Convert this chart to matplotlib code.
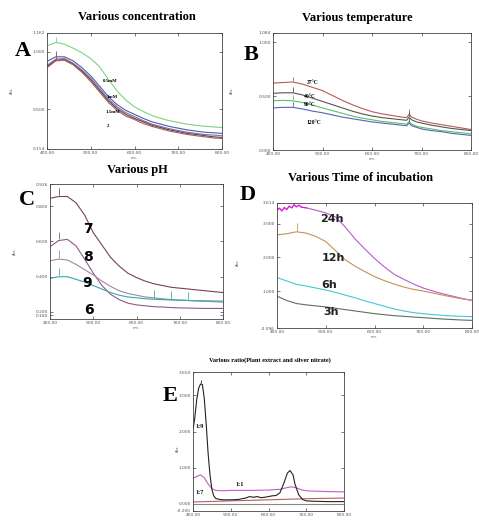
import matplotlib.pyplot as plt
import numpy as np

# ============================================================
# DATA
# ============================================================

nm20 = [400, 420, 440, 460, 480, 500, 520, 540, 560, 580, 600,
        620, 640, 660, 680, 700, 720, 740, 760, 780, 800]

# A - various concentration
conc_labels = ["0.5mM", "1mM", "1.5mM", "2"]
conc_05 = [1.05, 1.08, 1.065, 1.03, 0.99, 0.94, 0.87, 0.76, 0.66, 0.58, 0.52,
           0.48, 0.445, 0.42, 0.40, 0.385, 0.37, 0.36, 0.352, 0.346, 0.34]
conc_1 = [0.915, 0.955, 0.955, 0.92, 0.86, 0.79, 0.70, 0.61, 0.54, 0.49, 0.455,
          0.42, 0.39, 0.37, 0.35, 0.335, 0.32, 0.31, 0.30, 0.295, 0.29]
conc_15 = [0.88, 0.935, 0.94, 0.90, 0.84, 0.77, 0.68, 0.59, 0.52, 0.47, 0.435,
           0.40, 0.37, 0.35, 0.33, 0.315, 0.30, 0.29, 0.28, 0.275, 0.27]
conc_dark = [0.87, 0.925, 0.93, 0.89, 0.83, 0.755, 0.665, 0.575, 0.505, 0.455, 0.42,
             0.39, 0.36, 0.34, 0.32, 0.305, 0.29, 0.28, 0.27, 0.26, 0.255]
conc_2 = [0.86, 0.92, 0.925, 0.885, 0.82, 0.74, 0.65, 0.56, 0.49, 0.44, 0.41,
          0.375, 0.35, 0.33, 0.31, 0.295, 0.28, 0.27, 0.26, 0.25, 0.245]

# B - various temperature
nm_b = [400, 420, 440, 460, 480, 500, 520, 540, 560, 580, 600, 620, 640, 660,
        670, 675, 680, 690, 700, 720, 740, 760, 780, 800]
temp_labels = ["37\u00b0C", "40\u00b0C", "90\u00b0C", "120\u00b0C"]
temp_37 = [0.62, 0.625, 0.63, 0.61, 0.58, 0.55, 0.505, 0.46, 0.42, 0.385, 0.355, 0.335,
           0.32, 0.305, 0.30, 0.33, 0.305, 0.285, 0.27, 0.25, 0.235, 0.22, 0.205, 0.19]
temp_40 = [0.525, 0.53, 0.53, 0.51, 0.48, 0.45, 0.42, 0.39, 0.36, 0.335, 0.315, 0.30,
           0.29, 0.28, 0.275, 0.305, 0.28, 0.26, 0.25, 0.23, 0.215, 0.20, 0.19, 0.18]
temp_90 = [0.455, 0.46, 0.455, 0.44, 0.415, 0.39, 0.365, 0.34, 0.315, 0.295, 0.28, 0.265,
           0.255, 0.245, 0.24, 0.265, 0.24, 0.22, 0.21, 0.195, 0.18, 0.17, 0.16, 0.15]
temp_120 = [0.39, 0.395, 0.395, 0.38, 0.36, 0.345, 0.325, 0.305, 0.29, 0.275, 0.26, 0.25,
            0.24, 0.23, 0.225, 0.25, 0.225, 0.21, 0.195, 0.18, 0.17, 0.155, 0.145, 0.135]

# C - various pH
ph_labels = ["7", "8", "9", "6"]
ph_7 = [0.845, 0.855, 0.855, 0.82, 0.75, 0.65, 0.58, 0.51, 0.46, 0.42, 0.395,
        0.375, 0.36, 0.35, 0.34, 0.335, 0.33, 0.325, 0.32, 0.315, 0.31]
ph_8 = [0.57, 0.605, 0.612, 0.575, 0.50, 0.42, 0.35, 0.30, 0.27, 0.25, 0.24,
        0.235, 0.23, 0.228, 0.225, 0.223, 0.222, 0.221, 0.22, 0.22, 0.22]
ph_9 = [0.49, 0.50, 0.495, 0.47, 0.44, 0.41, 0.375, 0.345, 0.32, 0.305, 0.295,
        0.285, 0.28, 0.275, 0.27, 0.268, 0.265, 0.262, 0.26, 0.258, 0.255]
ph_6 = [0.39, 0.40, 0.40, 0.385, 0.37, 0.35, 0.33, 0.31, 0.295, 0.285, 0.28,
        0.275, 0.272, 0.27, 0.268, 0.266, 0.265, 0.264, 0.263, 0.262, 0.262]

# D - various time of incubation
time_labels = ["24h", "12h", "6h", "3h"]
nm_24 = [400, 405, 410, 415, 420, 425, 430, 435, 440, 445, 450, 460, 480, 500,
         520, 540, 560, 580, 600, 620, 640, 660, 680, 700, 720, 740, 760, 780, 800]
time_24 = [3.40, 3.46, 3.38, 3.48, 3.42, 3.52, 3.47, 3.56, 3.50, 3.55, 3.49, 3.47, 3.40,
           3.32, 3.20, 2.90, 2.55, 2.25, 1.97, 1.72, 1.50, 1.35, 1.21, 1.09, 1.00,
           0.92, 0.85, 0.78, 0.72]
time_12 = [2.67, 2.70, 2.76, 2.72, 2.62, 2.47, 2.20, 1.93, 1.74, 1.58, 1.43,
           1.31, 1.21, 1.12, 1.05, 1.00, 0.94, 0.88, 0.82, 0.77, 0.73]
time_6 = [1.40, 1.30, 1.20, 1.15, 1.09, 1.03, 0.96, 0.88, 0.80, 0.71, 0.63,
          0.55, 0.47, 0.41, 0.36, 0.33, 0.30, 0.28, 0.26, 0.25, 0.24]
time_3 = [0.85, 0.72, 0.63, 0.59, 0.56, 0.53, 0.49, 0.45, 0.41, 0.37, 0.33,
          0.30, 0.27, 0.25, 0.23, 0.21, 0.19, 0.17, 0.155, 0.14, 0.13]

# E - various ratio
nm_19 = [400, 405, 410, 415, 420, 425, 430, 435, 440, 445, 450, 455, 460, 470, 480,
         500, 520, 540, 550, 560, 570, 580, 590, 600, 610, 620, 630, 640, 650, 657,
         665, 670, 680, 690, 700, 720, 760, 800]
ratio_19 = [2.05, 2.40, 2.90, 3.20, 3.32, 3.30, 2.90, 2.20, 1.40, 0.80, 0.40, 0.22, 0.15,
            0.12, 0.11, 0.11, 0.12, 0.16, 0.20, 0.18, 0.20, 0.17, 0.18, 0.20, 0.22, 0.23,
            0.30, 0.55, 0.85, 0.92, 0.80, 0.55, 0.25, 0.12, 0.08, 0.07, 0.06, 0.06]
nm_17 = [400, 410, 420, 430, 440, 450, 460, 480, 500, 550, 600, 630, 650, 660, 670,
         690, 700, 750, 800]
ratio_17 = [0.70, 0.76, 0.80, 0.72, 0.55, 0.42, 0.37, 0.36, 0.37, 0.37, 0.38, 0.40,
            0.45, 0.47, 0.45, 0.38, 0.36, 0.34, 0.33]
nm_11 = [400, 500, 600, 700, 800]
ratio_11 = [0.05, 0.08, 0.11, 0.14, 0.16]
ratio_base = [0.0, 0.0, 0.0, 0.0, 0.0]

x_ticks = [400, 500, 600, 700, 800]
x_ticklabels = ["400.00", "500.00", "600.00", "700.00", "800.00"]

# ============================================================
# FIGURE
# ============================================================

W, H = 479, 520
fig = plt.figure(figsize=(W / 100, H / 100), dpi=100)
fig.patch.set_facecolor("white")

SERIF = "Liberation Serif"


def box(x0, y0, x1, y1):
    return [x0 / W, 1 - y1 / H, (x1 - x0) / W, (y1 - y0) / H]


def ftext(x, y, s, **kw):
    fig.text(x / W, 1 - y / H, s, ha="center", va="center", **kw)


def style(ax, ylim, yticks, yticklabels, xlabel="nm."):
    ax.set_xlim(400, 800)
    ax.set_ylim(*ylim)
    ax.set_xticks(x_ticks)
    ax.set_xticklabels(x_ticklabels, fontsize=3.2, color="#555555")
    ax.set_yticks(yticks)
    ax.set_yticklabels(yticklabels, fontsize=3.2, color="#555555")
    ax.tick_params(direction="in", length=2, width=0.5, top=True, right=True,
                   pad=1.5, color="#444444")
    for s in ax.spines.values():
        s.set_linewidth(0.6)
        s.set_color("#444444")
    if xlabel:
        ax.set_xlabel(xlabel, fontsize=2.5, labelpad=0.5, color="#555555")


def peak_marks(ax, xs, ys, at, h, color):
    for p in at:
        i = xs.index(p)
        ax.vlines(p, ys[i] + h * 0.15, ys[i] + h, color=color, lw=0.6)


# ---------------- A ----------------
axA = fig.add_axes(box(47, 33, 222, 149))
style(axA, (0.154, 1.162), [0.154, 0.5, 1.0, 1.162],
      ["0.154", "0.500", "1.000", "1.162"])
a_series = [(conc_05, "#7fd37f"), (conc_1, "#4a5fa8"), (conc_15, "#8c6aa8"),
            (conc_dark, "#4a4a4a"), (conc_2, "#b05a5a")]
for ys, c in a_series:
    axA.plot(nm20, ys, color=c, lw=0.8)
    peak_marks(axA, nm20, ys, [420], 0.05, c)
for (lbl, (x, y)) in zip(conc_labels, [(110, 81), (112, 97), (113, 112), (108, 126)]):
    ftext(x, y, lbl, fontsize=3.5, weight="bold", family=SERIF)
ftext(137, 17, "Various concentration", fontsize=9, weight="bold", family=SERIF)
ftext(23, 51, "A", fontsize=16, weight="bold", family=SERIF)
ftext(12, 90, "Abs.", fontsize=2.5, rotation=90, color="#555555")

# ---------------- B ----------------
axB = fig.add_axes(box(273, 33, 471, 150))
style(axB, (0.0, 1.084), [0.0, 0.5, 1.0, 1.084],
      ["0.000", "0.500", "1.000", "1.084"])
b_series = [(temp_37, "#b55a5a"), (temp_40, "#555555"), (temp_90, "#5cbf6a"),
            (temp_120, "#5665b5")]
for ys, c in b_series:
    axB.plot(nm_b, ys, color=c, lw=0.8)
    peak_marks(axB, nm_b, ys, [440, 675], 0.05, c)
for (lbl, (x, y)) in zip(temp_labels, [(313, 82), (310, 97), (310, 104), (314, 122)]):
    ftext(x, y, lbl, fontsize=4, weight="bold", family=SERIF)
ftext(357, 18, "Various temperature", fontsize=9, weight="bold", family=SERIF)
ftext(251, 55, "B", fontsize=16, weight="bold", family=SERIF)
ftext(232, 90, "Abs.", fontsize=2.5, rotation=90, color="#555555")

# ---------------- C ----------------
axC = fig.add_axes(box(50, 184, 223, 319))
style(axC, (0.16, 0.926), [0.18, 0.2, 0.4, 0.6, 0.8, 0.926],
      ["0.180", "0.200", "0.400", "0.600", "0.800", "0.926"])
c_series = [(ph_7, "#7a4060"), (ph_8, "#8e5a86"), (ph_9, "#9c8aa2"),
            (ph_6, "#3aa6a6")]
for ys, c in c_series:
    axC.plot(nm20, ys, color=c, lw=0.8)
    peak_marks(axC, nm20, ys, [420], 0.05, c)
peak_marks(axC, nm20, ph_6, [640, 680, 720], 0.05, "#3aa6a6")
for (lbl, (x, y)) in zip(ph_labels, [(88, 229), (88, 257), (87, 283), (89, 310)]):
    ftext(x, y, lbl, fontsize=10, weight="bold")
ftext(137, 170, "Various pH", fontsize=9, weight="bold", family=SERIF)
ftext(27, 200, "C", fontsize=16, weight="bold", family=SERIF)
ftext(15, 251, "Abs.", fontsize=2.5, rotation=90, color="#555555")

# ---------------- D ----------------
axD = fig.add_axes(box(277, 203, 472, 328))
style(axD, (-0.096, 3.614), [-0.096, 1.0, 2.0, 3.0, 3.614],
      ["-0.096", "1.000", "2.000", "3.000", "3.614"])
axD.plot(nm_24, time_24, color="#b45ec8", lw=0.8)
axD.plot(nm_24[:12], time_24[:12], color="#e020e0", lw=0.9)
axD.plot(nm20, time_12, color="#c4925a", lw=0.8)
axD.plot(nm20, time_6, color="#45c6d6", lw=0.8)
axD.plot(nm20, time_3, color="#5f6f64", lw=0.8)
peak_marks(axD, nm_24, time_24, [435], 0.25, "#c050c0")
peak_marks(axD, nm20, time_12, [440], 0.25, "#c4925a")
for (lbl, (x, y)) in zip(time_labels, [(332, 219), (333, 258), (329, 285), (331, 312)]):
    ftext(x, y, lbl, fontsize=8, weight="bold", color="#222222")
ftext(360, 178, "Various Time of incubation", fontsize=9, weight="bold", family=SERIF)
ftext(248, 195, "D", fontsize=16, weight="bold", family=SERIF)
ftext(238, 262, "Abs.", fontsize=2.5, rotation=90, color="#555555")

# ---------------- E ----------------
axE = fig.add_axes(box(193, 372, 344, 511))
style(axE, (-0.2, 3.65), [-0.2, 0.0, 1.0, 2.0, 3.0, 3.65],
      ["-0.200", "0.000", "1.000", "2.000", "3.000", "3.650"], xlabel=None)
axE.plot(nm_11, ratio_base, color="#888888", lw=0.8)
axE.plot(nm_11, ratio_11, color="#b06060", lw=0.8)
axE.plot(nm_17, ratio_17, color="#c060c0", lw=0.8)
axE.plot(nm_19, ratio_19, color="#222222", lw=0.8)
peak_marks(axE, nm_19, ratio_19, [420], 0.12, "#222222")
for (lbl, (x, y)) in zip(["1:9", "1:7", "1:1"], [(200, 426), (200, 492), (240, 485)]):
    ftext(x, y, lbl, fontsize=4.5, weight="bold", family=SERIF)
ftext(270, 360, "Various ratio(Plant extract and silver nitrate)", fontsize=4.5,
      weight="bold", family=SERIF)
ftext(170, 396, "E", fontsize=16, weight="bold", family=SERIF)
ftext(178, 448, "Abs.", fontsize=2.5, rotation=90, color="#555555")

fig.savefig("out.png", dpi=100)
